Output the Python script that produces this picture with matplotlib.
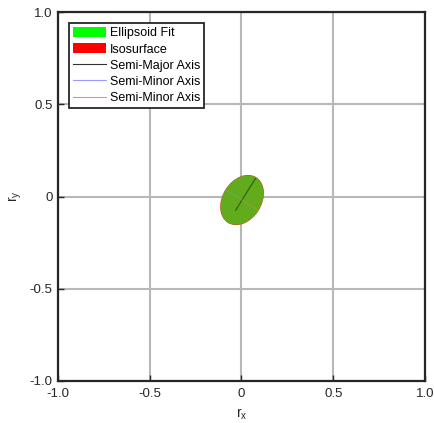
import matplotlib
matplotlib.use("Agg")
import matplotlib.pyplot as plt
import matplotlib.patches as patches
from matplotlib.lines import Line2D
import numpy as np

# Fitted ellipse parameters (projection onto the rx-ry plane)
center = [0.003, -0.019]
semi_major = 0.144
semi_minor = 0.105
angle_deg = 58

ticks = [-1.0, -0.5, 0, 0.5, 1.0]
tick_labels = ["-1.0", "-0.5", "0", "0.5", "1.0"]

plt.rcParams["font.family"] = ["Liberation Sans", "DejaVu Sans"]
plt.rcParams["mathtext.default"] = "regular"
plt.rcParams["axes.unicode_minus"] = False

fig = plt.figure(figsize=(4.35, 4.23), dpi=100)
ax = fig.add_axes([0.1333, 0.0993, 0.8437, 0.8723])

# Isosurface underneath, ellipsoid fit blended over it
iso = patches.Ellipse(center, 2 * semi_major + 0.004, 2 * semi_minor + 0.004, angle=angle_deg,
                      facecolor="#e03020", edgecolor="none", zorder=3)
fit = patches.Ellipse(center, 2 * semi_major, 2 * semi_minor, angle=angle_deg,
                      facecolor=(0.05, 1, 0.1), edgecolor="none", alpha=0.6, zorder=4)
ax.add_patch(iso)
ax.add_patch(fit)

# Axis lines through the centre
t = np.deg2rad(angle_deg)
major_dir = np.array([np.cos(t), np.sin(t)])
minor_dir = np.array([-np.sin(t), np.cos(t)])
c = np.array(center)
p0 = c - 0.45 * semi_major * major_dir
p1 = c + 0.95 * semi_major * major_dir
ax.plot([p0[0], p1[0]], [p0[1], p1[1]], color="#2f5a10", lw=0.8, zorder=5)
p = c + semi_minor * minor_dir
ax.plot([c[0], p[0]], [c[1], p[1]], color="#9a9aff", lw=0.6, alpha=0.4, zorder=5)
p = c - semi_minor * minor_dir
ax.plot([c[0], p[0]], [c[1], p[1]], color="#ff8080", lw=0.6, alpha=0.4, zorder=5)

ax.set_xlim(-1, 1)
ax.set_ylim(-1, 1)
ax.set_xticks(ticks)
ax.set_xticklabels(tick_labels)
ax.set_yticks(ticks)
ax.set_yticklabels(tick_labels)
ax.tick_params(direction="in", length=4, width=1, labelsize=9.5, colors="#262626")
ax.tick_params(axis="x", pad=5)
ax.tick_params(axis="y", pad=4)
ax.grid(True, color="#b8b8b8", lw=1.5, zorder=0)
ax.set_axisbelow(True)
for s in ax.spines.values():
    s.set_linewidth(1.6)
    s.set_color("#262626")

ax.set_xlabel("r$_x$", fontsize=10, color="#262626", labelpad=5)
ax.set_ylabel("r$_y$", fontsize=10, color="#262626", labelpad=4)

handles = [
    patches.Patch(facecolor=(0, 1, 0), edgecolor="none", label="Ellipsoid Fit"),
    patches.Patch(facecolor="red", edgecolor="none", label="Isosurface"),
    Line2D([], [], color="#333333", lw=0.8, label="Semi-Major Axis"),
    Line2D([], [], color="#9a9aff", lw=0.8, label="Semi-Minor Axis"),
    Line2D([], [], color="#ff8080", lw=0.8, label="Semi-Minor Axis"),
]
leg = ax.legend(handles=handles, loc="upper left", bbox_to_anchor=(0.030, 0.970),
                fontsize=9, frameon=True, fancybox=False, edgecolor="#262626",
                borderpad=0.3, labelspacing=0.3, handlelength=2.7, handleheight=0.9,
                handletextpad=0.3, borderaxespad=0)
leg.get_frame().set_linewidth(1.3)
leg.get_frame().set_alpha(1)

fig.savefig("out.png", dpi=100)
